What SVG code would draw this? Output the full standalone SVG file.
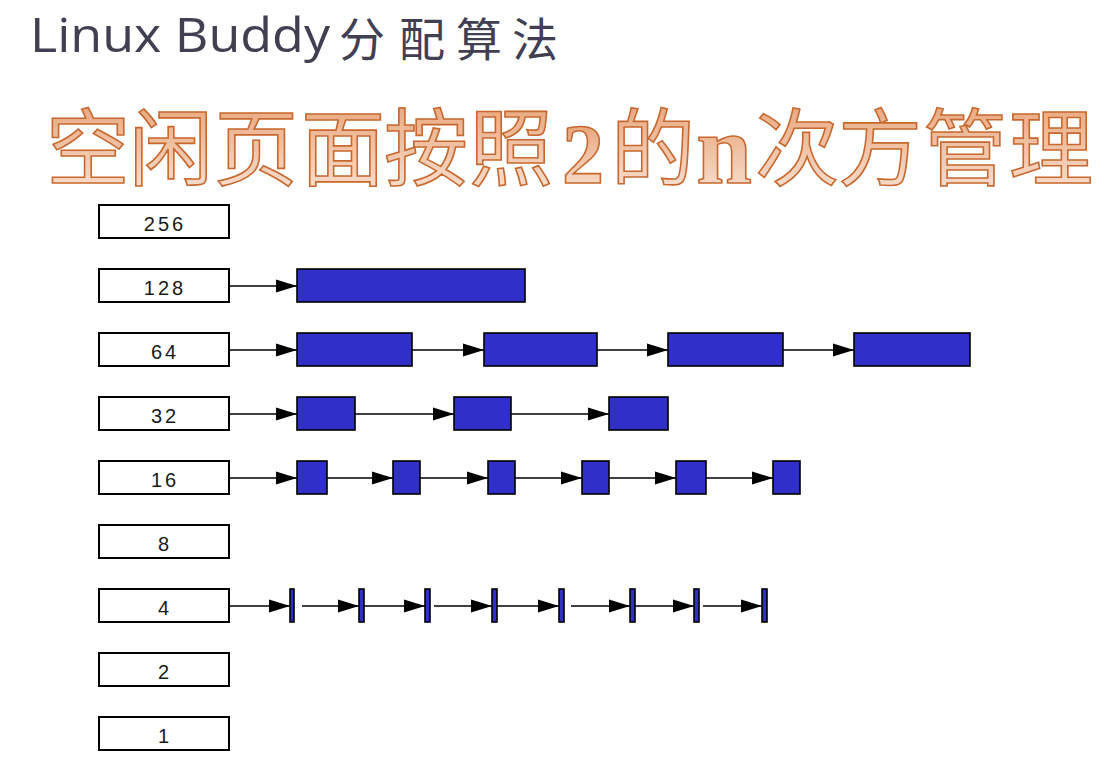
<svg xmlns="http://www.w3.org/2000/svg" width="1108" height="764" viewBox="0 0 1108 764">
<defs>
<linearGradient id="og" x1="0" y1="0" x2="0" y2="1">
<stop offset="0" stop-color="#e59a6a"/>
<stop offset="1" stop-color="#fae6da"/>
</linearGradient>
<marker id="ah" markerUnits="userSpaceOnUse" markerWidth="22" markerHeight="16" refX="21" refY="7" orient="auto">
<path d="M0,0.5 L21,7 L0,13.5 Z" fill="#000"/>
</marker>
<style>
.title{font-family:"Open Sans","Noto Sans CJK SC",sans-serif;fill:#404052}
.tc{font-family:"Noto Sans CJK SC",sans-serif;fill:#404052;font-size:46px;text-anchor:middle}
.big{font-family:"Noto Sans CJK SC",sans-serif;font-size:84px;fill:url(#og);stroke:#c8682e;stroke-width:1.6;text-anchor:middle}
.bigs{font-family:"Liberation Serif",serif;font-weight:bold;fill:url(#og);stroke:#c8682e;stroke-width:1.6;text-anchor:middle}
.lbl{fill:#fff;stroke:#000;stroke-width:2}
.lt{font-family:"Liberation Sans",sans-serif;font-size:20px;letter-spacing:3px;fill:#1a1a1a;text-anchor:middle}
.blk{fill:#3030c8;stroke:#000;stroke-width:1.6}
.cn line{stroke:#000;stroke-width:1.5;marker-end:url(#ah)}
</style>
</defs>
<rect width="1108" height="764" fill="#fff"/>
<g id="title">
<text class="title" x="30" y="52" font-size="48" textLength="300" lengthAdjust="spacingAndGlyphs">Linux Buddy</text>
<text class="tc" x="362" y="56">分</text>
<text class="tc" x="422" y="56">配</text>
<text class="tc" x="479" y="56">算</text>
<text class="tc" x="535" y="56">法</text>
</g>
<g id="subtitle">
<text class="big" x="88" y="179">空</text>
<text class="big" x="171" y="179">闲</text>
<text class="big" x="256" y="179">页</text>
<text class="big" x="343" y="179">面</text>
<text class="big" x="426" y="179">按</text>
<text class="big" x="511" y="179">照</text>
<text class="bigs" x="583" y="183" font-size="84" stroke-width="3">2</text>
<text class="big" x="653" y="179">的</text>
<text class="bigs" x="724" y="183" font-size="100">n</text>
<text class="big" x="797" y="179">次</text>
<text class="big" x="880" y="179">方</text>
<text class="big" x="965" y="179">管</text>
<text class="big" x="1051" y="179">理</text>
</g>
<g id="labels">
<g id="n256"><rect class="lbl" x="99" y="205" width="130" height="33"/><text class="lt" x="165" y="231">256</text></g>
<g id="n128"><rect class="lbl" x="99" y="269" width="130" height="33"/><text class="lt" x="165" y="295">128</text></g>
<g id="n64"><rect class="lbl" x="99" y="333" width="130" height="33"/><text class="lt" x="165" y="359">64</text></g>
<g id="n32"><rect class="lbl" x="99" y="397" width="130" height="33"/><text class="lt" x="165" y="423">32</text></g>
<g id="n16"><rect class="lbl" x="99" y="461" width="130" height="33"/><text class="lt" x="165" y="487">16</text></g>
<g id="n8"><rect class="lbl" x="99" y="525" width="130" height="33"/><text class="lt" x="165" y="551">8</text></g>
<g id="n4"><rect class="lbl" x="99" y="589" width="130" height="33"/><text class="lt" x="165" y="615">4</text></g>
<g id="n2"><rect class="lbl" x="99" y="653" width="130" height="33"/><text class="lt" x="165" y="679">2</text></g>
<g id="n1"><rect class="lbl" x="99" y="717" width="130" height="33"/><text class="lt" x="165" y="743">1</text></g>
</g>
<g id="blocks">
<g id="b128"><rect class="blk" x="297" y="269" width="228" height="33"/></g>
<g id="b64">
<rect class="blk" x="297" y="333" width="115" height="33"/>
<rect class="blk" x="484" y="333" width="113" height="33"/>
<rect class="blk" x="668" y="333" width="115" height="33"/>
<rect class="blk" x="854" y="333" width="116" height="33"/>
</g>
<g id="b32">
<rect class="blk" x="297" y="397" width="58" height="33"/>
<rect class="blk" x="454" y="397" width="57" height="33"/>
<rect class="blk" x="609" y="397" width="59" height="33"/>
</g>
<g id="b16">
<rect class="blk" x="297" y="461" width="30" height="33"/>
<rect class="blk" x="393" y="461" width="27" height="33"/>
<rect class="blk" x="488" y="461" width="27" height="33"/>
<rect class="blk" x="582" y="461" width="27" height="33"/>
<rect class="blk" x="676" y="461" width="30" height="33"/>
<rect class="blk" x="773" y="461" width="27" height="33"/>
</g>
<g id="b4">
<rect class="blk" x="290" y="589" width="4" height="33"/>
<rect class="blk" x="359" y="589" width="5" height="33"/>
<rect class="blk" x="425" y="589" width="5" height="33"/>
<rect class="blk" x="492" y="589" width="5" height="33"/>
<rect class="blk" x="559" y="589" width="5" height="33"/>
<rect class="blk" x="630" y="589" width="5" height="33"/>
<rect class="blk" x="694" y="589" width="5" height="33"/>
<rect class="blk" x="762" y="589" width="5" height="33"/>
</g>
</g>
<g id="connectors" class="cn">
<line x1="230" y1="286" x2="297" y2="286"/>
<line x1="230" y1="350" x2="297" y2="350"/>
<line x1="412" y1="350" x2="484" y2="350"/>
<line x1="597" y1="350" x2="668" y2="350"/>
<line x1="783" y1="350" x2="854" y2="350"/>
<line x1="230" y1="414" x2="297" y2="414"/>
<line x1="355" y1="414" x2="454" y2="414"/>
<line x1="511" y1="414" x2="609" y2="414"/>
<line x1="230" y1="478" x2="297" y2="478"/>
<line x1="327" y1="478" x2="393" y2="478"/>
<line x1="420" y1="478" x2="488" y2="478"/>
<line x1="515" y1="478" x2="582" y2="478"/>
<line x1="609" y1="478" x2="676" y2="478"/>
<line x1="706" y1="478" x2="773" y2="478"/>
<line x1="230" y1="606" x2="290" y2="606"/>
<line x1="302" y1="606" x2="359" y2="606"/>
<line x1="364" y1="606" x2="425" y2="606"/>
<line x1="434" y1="606" x2="492" y2="606"/>
<line x1="497" y1="606" x2="559" y2="606"/>
<line x1="571" y1="606" x2="630" y2="606"/>
<line x1="635" y1="606" x2="694" y2="606"/>
<line x1="703" y1="606" x2="762" y2="606"/>
</g>
</svg>
